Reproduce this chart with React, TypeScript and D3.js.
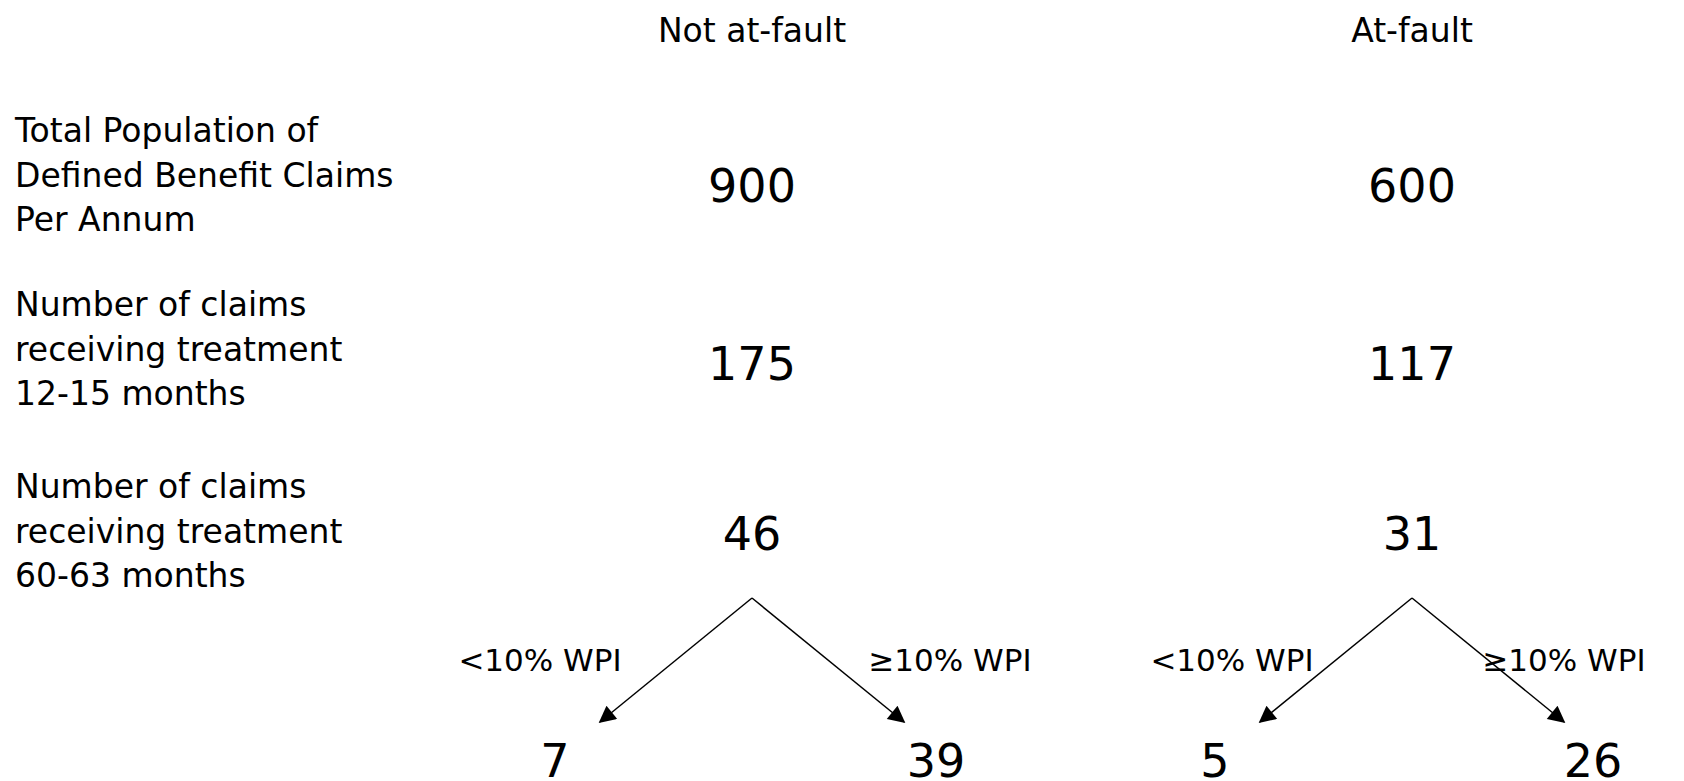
import React from "react";
import * as d3 from "d3";

const groups = ["Not at-fault", "At-fault"];
const rowLabels = [
  ["Total Population of", "Defined Benefit Claims", "Per Annum"],
  ["Number of claims", "receiving treatment", "12-15 months"],
  ["Number of claims", "receiving treatment", "60-63 months"],
];
const rowKeys = ["total", "m12", "m60"];
const notAtFaultValues = [900, 175, 46];
const atFaultValues = [600, 117, 31];
const splitLabels = ["<10% WPI", "\u226510% WPI"];
const notAtFaultSplit = [7, 39];
const atFaultSplit = [5, 26];

const W = 1684;
const H = 781;
const FONT = "'DejaVu Sans', Verdana, sans-serif";

export default function App() {
  const x = d3.scalePoint<string>().domain(groups).range([752, 1412]);
  const yVal = d3.scaleOrdinal<string, number>().domain(rowKeys).range([202, 380, 550]);
  const yLab = d3.scaleOrdinal<string, number>().domain(rowKeys).range([142, 316, 498]);
  const lineH = 44.5;
  const branch = d3.scalePoint<string>().domain(splitLabels).range([-152, 152]);
  const leafY = 722;
  const rootY = 598;
  const seriesVals = [notAtFaultValues, atFaultValues];
  const splitVals = [notAtFaultSplit, atFaultSplit];
  // label and leaf-number offsets relative to arrow tip, per group/branch
  const labelDx = [
    [-60, 46],
    [-28, 0],
  ];
  const leafDx = [
    [-45, 32],
    [-45, 29],
  ];

  return (
    <svg width={W} height={H} style={{ display: "block", position: "absolute", left: 0, top: 0 }}>
      <defs>
        <marker id="arrowBig" viewBox="0 0 10 10" refX="9" refY="5" markerWidth="20" markerHeight="17" markerUnits="userSpaceOnUse" orient="auto">
          <path d="M0,0 L10,5 L0,10 Z" fill="#000" />
        </marker>
      </defs>
      <rect width={W} height={H} fill="#fff" />
      {groups.map((g) => (
        <text key={g} x={x(g)} y={42} textAnchor="middle" fontFamily={FONT} fontSize={33} fill="#000">
          {g}
        </text>
      ))}
      {rowKeys.map((k, i) => (
        <text key={k} fontFamily={FONT} fontSize={33} fill="#000">
          {rowLabels[i].map((l, j) => (
            <tspan key={j} x={15} y={yLab(k)! + j * lineH}>
              {l}
            </tspan>
          ))}
        </text>
      ))}
      {groups.map((g, gi) =>
        rowKeys.map((k, i) => (
          <text key={g + k} x={x(g)} y={yVal(k)} textAnchor="middle" fontFamily={FONT} fontSize={46} fill="#000">
            {seriesVals[gi][i]}
          </text>
        ))
      )}
      {groups.map((g, gi) => (
        <g key={"tree" + g}>
          {splitLabels.map((s, si) => {
            const x0 = x(g)!;
            const x1 = x0 + branch(s)!;
            return (
              <g key={s}>
                <line x1={x0} y1={rootY} x2={x1} y2={leafY} stroke="#000" strokeWidth={1.5} markerEnd="url(#arrowBig)" />
                <text x={x1 + labelDx[gi][si]} y={671} textAnchor="middle" fontFamily={FONT} fontSize={31} fill="#000">
                  {s}
                </text>
                <text x={x1 + leafDx[gi][si]} y={777} textAnchor="middle" fontFamily={FONT} fontSize={46} fill="#000">
                  {splitVals[gi][si]}
                </text>
              </g>
            );
          })}
        </g>
      ))}
    </svg>
  );
}
